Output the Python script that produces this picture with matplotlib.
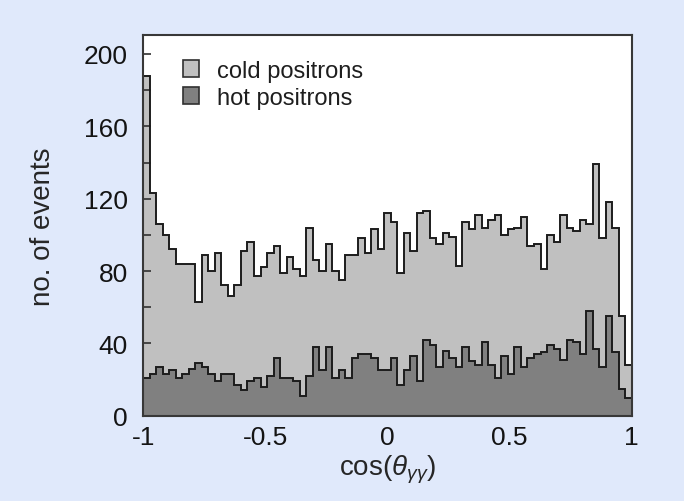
import numpy as np
import matplotlib
matplotlib.use("Agg")
import matplotlib.pyplot as plt
from matplotlib.patches import Patch
from matplotlib.ticker import MultipleLocator, FixedLocator, FixedFormatter

# ---- data ----
n_bins = 75
x_range = (-1.0, 1.0)
cold_counts = [188, 123, 106, 100, 92, 84, 84, 84, 63, 89, 80, 90, 72, 66, 72,
               91, 96, 77, 82, 90, 94, 79, 88, 81, 77, 104, 86, 80, 95, 80,
               75, 89, 89, 98, 90, 103, 92, 112, 107, 79, 101, 91, 112, 113, 98,
               95, 101, 99, 83, 107, 103, 111, 104, 108, 111, 100, 103, 104, 110, 94,
               95, 81, 100, 96, 111, 104, 102, 108, 106, 139, 98, 118, 104, 55, 28]
hot_counts = [21, 23, 27, 23, 25, 21, 23, 26, 29, 27, 23, 19, 23, 23, 17,
              14, 19, 21, 16, 22, 32, 21, 21, 19, 11, 22, 38, 25, 38, 21,
              25, 21, 32, 34, 34, 32, 25, 25, 32, 17, 25, 33, 19, 42, 39,
              27, 36, 32, 27, 38, 30, 28, 41, 28, 21, 33, 23, 38, 27, 32,
              34, 35, 39, 37, 31, 42, 41, 34, 58, 37, 27, 55, 35, 15, 10]
series_labels = ["cold positrons", "hot positrons"]
x_tick_values = [-1, -0.5, 0, 0.5, 1]
x_tick_labels = ["-1", "-0.5", "0", "0.5", "1"]
y_tick_values = [0, 40, 80, 120, 160, 200]
y_tick_labels = ["0", "40", "80", "120", "160", "200"]

# ---- style ----
plt.rcParams['font.family'] = ['Liberation Sans', 'DejaVu Sans']
plt.rcParams['mathtext.fontset'] = 'custom'
plt.rcParams['mathtext.rm'] = 'Liberation Sans'
plt.rcParams['mathtext.it'] = 'Liberation Sans:italic'
plt.rcParams['axes.unicode_minus'] = False

bg = '#E0E9FB'
cold_col = '#C0C0C0'
hot_col = '#808080'
edge_col = '#1c1c1c'
text_col = '#141414'

fig = plt.figure(figsize=(6.84, 5.02), dpi=100, facecolor=bg)
ax = fig.add_axes([0.2095, 0.1699, 0.7140, 0.7584])
ax.set_facecolor('white')

edges = np.linspace(x_range[0], x_range[1], n_bins + 1)
ax.stairs(cold_counts, edges, fill=True, color=cold_col, zorder=1)
ax.stairs(cold_counts, edges, color=edge_col, linewidth=1.4, baseline=0, zorder=2)
ax.stairs(hot_counts, edges, fill=True, color=hot_col, zorder=3)
ax.stairs(hot_counts, edges, color=edge_col, linewidth=1.4, baseline=0, zorder=4)

ax.set_xlim(*x_range)
ax.set_ylim(0, 210.5)

ax.xaxis.set_major_locator(FixedLocator(x_tick_values))
ax.xaxis.set_major_formatter(FixedFormatter(x_tick_labels))
ax.xaxis.set_minor_locator(MultipleLocator(0.25))
ax.yaxis.set_major_locator(FixedLocator(y_tick_values))
ax.yaxis.set_major_formatter(FixedFormatter(y_tick_labels))
ax.yaxis.set_minor_locator(MultipleLocator(20))

ax.tick_params(axis='both', which='both', direction='in', top=False, right=False,
               colors='#303030', labelcolor=text_col)
ax.tick_params(axis='both', which='major', length=6, width=1.2, labelsize=19)
ax.tick_params(axis='both', which='minor', length=6, width=1.2)
ax.tick_params(axis='x', which='major', pad=7)
ax.tick_params(axis='y', which='major', pad=11)

for s in ax.spines.values():
    s.set_color('#383838')
    s.set_linewidth(1.5)
    s.set_zorder(10)

ax.set_ylabel('no. of events', fontsize=20, color='#262626', labelpad=20)
ax.set_xlabel(r'cos($\theta_{\gamma\gamma}$)', fontsize=20, color='#262626', labelpad=2)

handles = [Patch(facecolor=cold_col, edgecolor='#303030', linewidth=1.2),
           Patch(facecolor=hot_col, edgecolor='#303030', linewidth=1.2)]
leg = ax.legend(handles, series_labels, loc='upper left', bbox_to_anchor=(0.052, 0.972),
                frameon=False, fontsize=17, handlelength=0.7, handleheight=0.7,
                handletextpad=0.75, labelspacing=0.2, borderaxespad=0.2)
for t in leg.get_texts():
    t.set_color('#1e1e1e')

fig.savefig('out.png', dpi=100, facecolor=bg)
